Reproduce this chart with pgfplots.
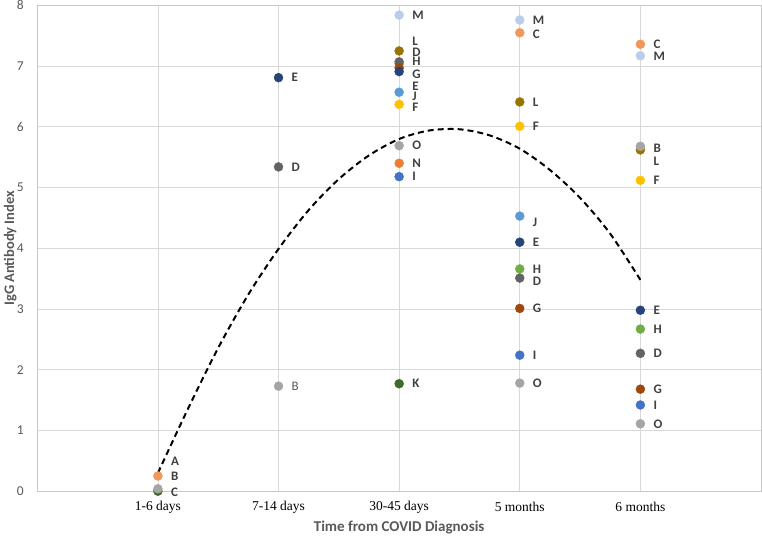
\documentclass[border=0pt]{standalone}
\usepackage{pgfplots}
\pgfplotsset{compat=1.18}
\usepackage{pgfplotstable}
\usepackage{fontspec}
\setmainfont{Carlito}
\newfontfamily\timesf{Liberation Serif}
\definecolor{cor}{HTML}{F1975A}
\definecolor{nor}{HTML}{ED7D31}
\definecolor{gry}{HTML}{A5A5A5}
\definecolor{dgy}{HTML}{636363}
\definecolor{nav}{HTML}{264478}
\definecolor{blu}{HTML}{4472C4}
\definecolor{lbl}{HTML}{5B9BD5}
\definecolor{gol}{HTML}{FFC000}
\definecolor{dgo}{HTML}{997300}
\definecolor{brn}{HTML}{9E480E}
\definecolor{grn}{HTML}{70AD47}
\definecolor{dgn}{HTML}{43682B}
\definecolor{pal}{HTML}{BCCDEB}
\definecolor{lab}{HTML}{404040}
\definecolor{axt}{HTML}{595959}

% points: x y colour-class
\pgfplotstableread{
x y c
1 0.25 cor
1 0.00 dgn
1 0.04 gry
2 6.81 nav
2 5.34 dgy
2 1.73 gry
3 7.84 pal
3 7.25 dgo
3 7.04 grn
3 7.07 dgy
3 6.97 brn
3 6.91 nav
3 6.57 lbl
3 6.37 gol
3 5.69 gry
3 5.40 nor
3 5.18 blu
3 1.77 dgn
4 7.76 pal
4 7.55 cor
4 6.41 dgo
4 6.01 gol
4 4.53 lbl
4 4.10 nav
4 3.66 grn
4 3.51 dgy
4 3.01 brn
4 2.24 blu
4 1.78 gry
5 7.36 cor
5 7.17 pal
5 5.62 dgo
5 5.68 gry
5 5.12 gol
5 2.98 nav
5 2.67 grn
5 2.27 dgy
5 1.68 brn
5 1.42 blu
5 1.11 gry
}\pts

% data labels: x y text
\pgfplotstableread{
x y t
1 0.50 A
1 0.25 B
1 -0.02 C
2 6.81 E
2 5.34 D
3 7.84 M
3 7.41 L
3 7.23 D
3 7.08 H
3 6.86 G
3 6.66 E
3 6.51 J
3 6.32 F
3 5.69 O
3 5.40 N
3 5.18 I
3 1.77 K
4 7.76 M
4 7.52 C
4 6.41 L
4 6.01 F
4 4.42 J
4 4.10 E
4 3.66 H
4 3.45 D
4 3.01 G
4 2.24 I
4 1.78 O
5 7.36 C
5 7.17 M
5 5.65 B
5 5.43 L
5 5.12 F
5 2.98 E
5 2.67 H
5 2.27 D
5 1.68 G
5 1.42 I
5 1.11 O
}\labs

\pgfplotstableread{
x y
1.00 0.30
1.25 1.36
1.50 2.36
1.75 3.24
2.00 3.99
2.25 4.63
2.50 5.14
2.75 5.53
3.00 5.80
3.25 5.94
3.50 5.96
3.75 5.86
4.00 5.64
4.25 5.29
4.50 4.83
4.75 4.24
5.00 3.48
}\trend

\begin{document}
\begin{tikzpicture}
\begin{axis}[
  name=ax,
  scale only axis,
  width=724pt, height=486pt,
  xmin=0, xmax=6, ymin=0, ymax=8,
  xtick={1,2,3,4,5},
  xticklabels={1-6 days,7-14 days,30-45 days,5 months,6 months},
  ytick={0,1,...,8},
  major tick length=0pt,
  grid=major,
  major grid style={draw=black!15, line width=0.8pt},
  axis line style={draw=black!22, line width=0.8pt},
  xticklabel style={font=\timesf\fontsize{13.5}{16}\selectfont, text=black, anchor=center, yshift=-16pt},
  yticklabel style={font=\fontsize{13.5}{16}\selectfont, text=axt, anchor=center, xshift=-17pt},
  /pgf/number format/assume math mode=true,
  xlabel={Time from COVID Diagnosis},
  ylabel={IgG Antibody Index},
  xlabel style={font=\bfseries\fontsize{15}{18}\selectfont, text=axt, at={(axis description cs:0.5,0)}, anchor=center, yshift=-36pt},
  ylabel style={font=\bfseries\fontsize{14.5}{17}\selectfont, text=axt, at={(axis description cs:0,0.5)}, anchor=center, xshift=0pt, yshift=27pt},
  clip=false,
]
\addplot[scatter, only marks, mark=*, mark size=4.5pt,
  scatter src=explicit symbolic,
  scatter/classes={
    cor={mark=*, draw=cor, fill=cor},
    nor={mark=*, draw=nor, fill=nor},
    gry={mark=*, draw=gry, fill=gry},
    dgy={mark=*, draw=dgy, fill=dgy},
    nav={mark=*, draw=nav, fill=nav},
    blu={mark=*, draw=blu, fill=blu},
    lbl={mark=*, draw=lbl, fill=lbl},
    gol={mark=*, draw=gol, fill=gol},
    dgo={mark=*, draw=dgo, fill=dgo},
    brn={mark=*, draw=brn, fill=brn},
    grn={mark=*, draw=grn, fill=grn},
    dgn={mark=*, draw=dgn, fill=dgn},
    pal={mark=*, draw=pal, fill=pal}}
] table[x=x, y=y, meta=c] {\pts};
\addplot[black, line width=2pt, dash pattern=on 6pt off 4pt, smooth, no marks] table[x=x, y=y] {\trend};
\addplot[only marks, mark=none, nodes near coords, point meta=explicit symbolic,
  nodes near coords align={anchor=west},
  every node near coord/.append style={anchor=west, xshift=13pt, inner sep=0pt, font=\bfseries\fontsize{13}{15}\selectfont, text=lab}
] table[x=x, y=y, meta=t] {\labs};
\addplot[only marks, mark=none, nodes near coords, point meta=explicit symbolic,
  nodes near coords align={anchor=west},
  every node near coord/.append style={anchor=west, xshift=13pt, inner sep=0pt, font=\fontsize{13}{15}\selectfont, text=axt}
] table[x=x, y=y, meta=t] {
x y t
2 1.73 B
};
\end{axis}
\pgfresetboundingbox
\path[use as bounding box] ([xshift=-37.3pt,yshift=-45pt]ax.south west) rectangle ([xshift=1pt,yshift=5.4pt]ax.north east);
\end{tikzpicture}
\end{document}
